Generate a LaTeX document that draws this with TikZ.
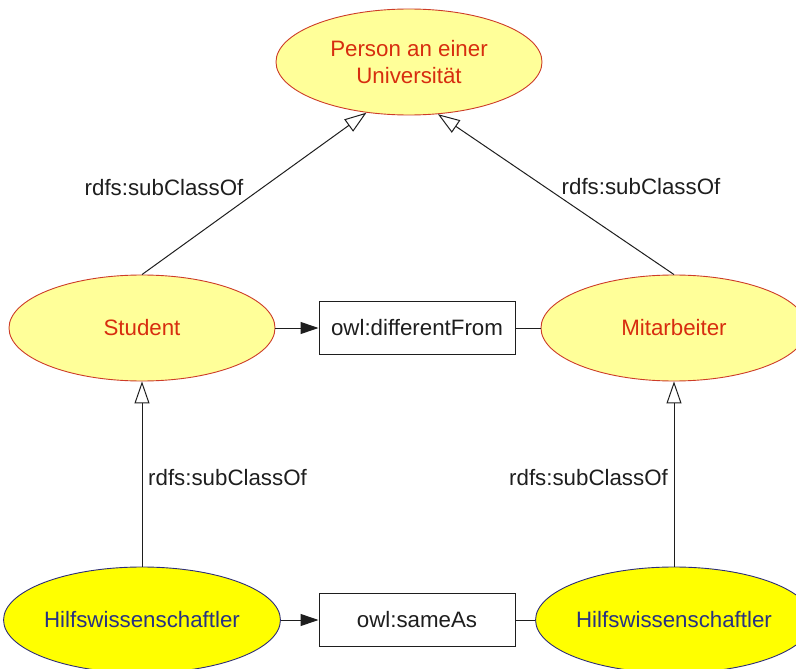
\documentclass[tikz,border=0pt]{standalone}
\usepackage{fontspec}
\setmainfont{Liberation Sans}
\usetikzlibrary{shapes.geometric,arrows.meta}

\definecolor{classfill}{RGB}{255,255,153}
\definecolor{classline}{RGB}{205,60,40}
\definecolor{classtext}{RGB}{215,45,15}
\definecolor{instfill}{RGB}{255,255,0}
\definecolor{instline}{RGB}{45,45,120}
\definecolor{insttext}{RGB}{40,50,130}
\definecolor{ink}{RGB}{30,30,30}

\begin{document}
\begin{tikzpicture}[x=1pt,y=-1pt,
  every node/.style={font=\fontsize{22.3}{26.8}\selectfont, inner sep=0pt},
  classnode/.style={ellipse, draw=classline, fill=classfill, text=classtext,
    minimum width=266pt, minimum height=106pt, line width=0.9pt, align=center},
  instnode/.style={ellipse, draw=instline, fill=instfill, text=insttext,
    minimum width=266pt, minimum height=106pt, line width=0.9pt},
  propbox/.style={rectangle, draw=ink, fill=white, text=ink,
    minimum width=196pt, minimum height=53pt, line width=1pt},
  link/.style={draw=ink, line width=1pt},
  subof/.style={link, -{Triangle[open,length=22pt,width=15pt]}},
  rel/.style={link, -{Triangle[length=18pt,width=12pt]}},
  edgelabel/.style={text=ink}
]
\useasboundingbox (0,0) rectangle (796,669);

% classes
\node[classnode] (person) at (409,62) {Person an einer\\Universit\"at};
\node[classnode] (student) at (142,328) {Student};
\node[classnode] (staff) at (674,328) {Mitarbeiter};

% instances
\node[instnode] (hiwiL) at (142,620) {Hilfswissenschaftler};
\node[instnode] (hiwiR) at (674,620) {Hilfswissenschaftler};

% property boxes
\node[propbox] (diff) at (417,328) {owl:differentFrom};
\node[propbox] (same) at (417,620) {owl:sameAs};

% subclass relations
\draw[subof] (student.north) -- (person.230);
\draw[subof] (staff.north) -- (person.299);
\draw[subof] (hiwiL.north) -- (student.south);
\draw[subof] (hiwiR.north) -- (staff.south);

% property links
\draw[rel] (student.east) -- (diff.west);
\draw[link] (diff.east) -- (staff.west);
\draw[rel] (hiwiL.east) -- (same.west);
\draw[link] (same.east) -- (hiwiR.west);

% edge labels
\node[edgelabel] (l1) at (164,188) {rdfs:subClassOf};
\node[edgelabel] (l2) at (641,187) {rdfs:subClassOf};
\node[edgelabel] (l3) at (227.5,478) {rdfs:subClassOf};
\node[edgelabel] (l4) at (588.5,478) {rdfs:subClassOf};
\end{tikzpicture}
\end{document}
